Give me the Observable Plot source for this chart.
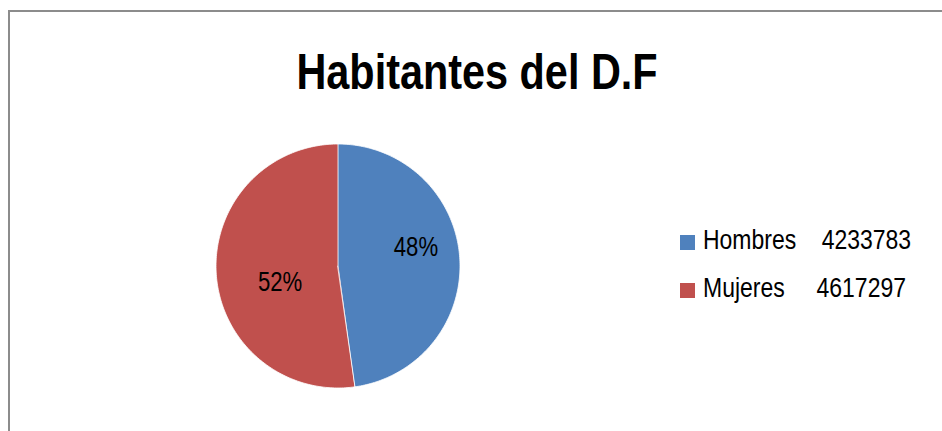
<!DOCTYPE html>
<html>
<head>
<meta charset="utf-8">
<script src="https://cdn.jsdelivr.net/npm/d3@7"></script>
<script src="https://cdn.jsdelivr.net/npm/@observablehq/plot@0.6"></script>
<style>
  html, body { margin: 0; padding: 0; background: #fff; overflow: hidden; }
  #root { position: relative; width: 942px; height: 431px; overflow: hidden; font-family: "Liberation Sans", Arial, sans-serif; }
  #frame { position: absolute; left: 8px; top: 10px; width: 1000px; height: 500px; border: 2px solid #8c8c8c; box-sizing: border-box; }
  #title { position: absolute; left: 476.5px; top: 46.7px; font-size: 50px; line-height: 50px; font-weight: bold; color: #000; white-space: nowrap; transform-origin: 50% 50%; }
  #pie { position: absolute; left: 208px; top: 136px; }
  .sw { position: absolute; width: 15px; height: 15px; }
  .lt { position: absolute; font-size: 28px; line-height: 28px; color: #000; white-space: pre; transform-origin: 0 50%; transform: scaleX(0.82); }
</style>
</head>
<body>
<div id="root">
  <div id="frame"></div>
  <div id="title"></div>
  <div id="pie"></div>
  <div id="legend"></div>
</div>
<script>
const title = "Habitantes del D.F";
const categories = ["Hombres", "Mujeres"];
const values = [4233783, 4617297];
const colors = ["#4F81BD", "#C0504D"];
const legendGaps = ["    ", "     "];
const FONT = "'Liberation Sans', Arial, sans-serif";

const titleEl = document.getElementById("title");
titleEl.textContent = title;
const tw = titleEl.offsetWidth;
titleEl.style.transform = `translateX(-50%) scaleX(${361 / tw})`;

const total = d3.sum(values);
let acc = 0;
const slices = categories.map((c, i) => {
  const a0 = acc / total * 2 * Math.PI;
  acc += values[i];
  const a1 = acc / total * 2 * Math.PI;
  return {category: c, value: values[i], a0, a1, mid: (a0 + a1) / 2,
          pct: Math.round(values[i] / total * 100) + "%"};
});
const arcPts = slices.flatMap(s => d3.range(0, 181).map(k => {
  const a = s.a0 + (s.a1 - s.a0) * k / 180;
  return {category: s.category, x: Math.sin(a), y: Math.cos(a)};
}));
const lr = 0.62;
const lx = d => lr * Math.sin(d.mid);
const ly = d => lr * Math.cos(d.mid);

const chart = Plot.plot({
  width: 260, height: 260, margin: 8,
  style: {fontFamily: FONT, background: "transparent", overflow: "visible"},
  x: {domain: [-1, 1], axis: null},
  y: {domain: [-1, 1], axis: null},
  color: {domain: categories, range: colors},
  marks: [
    Plot.area(arcPts, {x1: 0, y1: 0, x2: "x", y2: "y", z: "category", fill: "category", stroke: "white", strokeWidth: 0.8}),
    Plot.text([slices[0]], {x: lx, y: ly, text: "pct", fontSize: 27, fontFamily: FONT, fill: "black", dx: 2, dy: -14}),
    Plot.text([slices[1]], {x: lx, y: ly, text: "pct", fontSize: 27, fontFamily: FONT, fill: "black", dx: 17, dy: 11})
  ]
});
document.getElementById("pie").appendChild(chart);
chart.querySelectorAll("text").forEach(t => {
  const w = t.getComputedTextLength();
  t.setAttribute("textLength", (w * 0.82).toFixed(2));
  t.setAttribute("lengthAdjust", "spacingAndGlyphs");
});

const legend = document.getElementById("legend");
categories.forEach((c, i) => {
  const sw = document.createElement("div");
  sw.className = "sw";
  sw.style.left = "680px";
  sw.style.top = (235 + i * 48) + "px";
  sw.style.background = colors[i];
  legend.appendChild(sw);
  const t = document.createElement("div");
  t.className = "lt";
  t.style.left = "703px";
  t.style.top = (226.3 + i * 48) + "px";
  t.textContent = c + legendGaps[i] + values[i];
  legend.appendChild(t);
});
</script>
</body>
</html>
